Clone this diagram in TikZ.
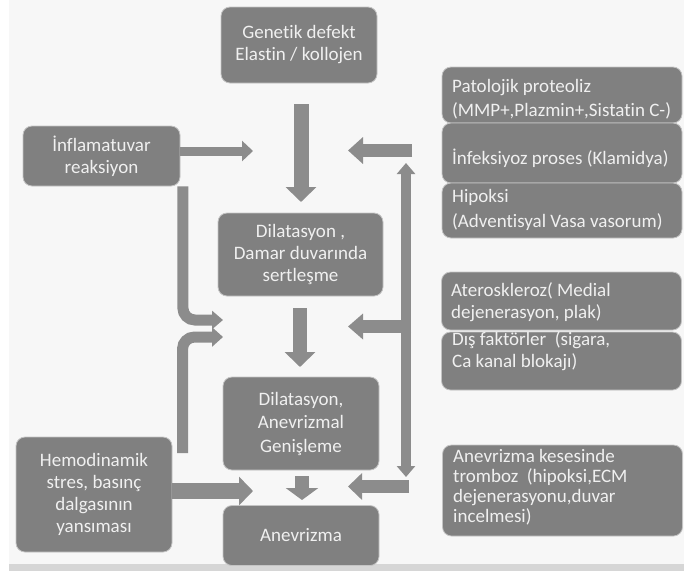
\documentclass[tikz,border=0pt]{standalone}
\usepackage{fontspec}
\setmainfont{Carlito}[Ligatures={NoCommon,NoRare,NoContextual}]
\usetikzlibrary{arrows.meta,calc}
\definecolor{bgc}{RGB}{247,247,247}
\definecolor{boxgray}{RGB}{128,128,128}
\definecolor{arrgray}{RGB}{140,140,140}
\definecolor{txtc}{RGB}{240,240,240}
\definecolor{edgec}{RGB}{196,196,196}
\definecolor{stripc}{RGB}{214,214,214}
\begin{document}
\begin{tikzpicture}[x=1pt,y=-1pt,
  box/.style={fill=boxgray, draw=edgec, line width=0.8pt, rounded corners=9pt,
    text=txtc, font=\fontsize{19}{22}\selectfont, align=center, inner sep=0pt},
  rbox/.style={box, minimum width=240pt},
  rtxt/.style={text=txtc, align=left, inner sep=0pt, anchor=west,
    font=\fontsize{19}{#1}\selectfont},
  blk/.style n args={3}{draw=arrgray, line width=#1, line cap=butt,
    -{Triangle[width=#2,length=#3]}},
]
\useasboundingbox (0,0) rectangle (684,571);
\fill[bgc] (0,0) rectangle (684,571);
\fill[white] (0,0) rectangle (9,571);
\fill[stripc] (9,564) rectangle (684,571);

% centre column
\node[box, minimum width=156pt, minimum height=76pt] (gen) at (299,45) {Genetik defekt\\Elastin / kollojen};
\node[box, minimum width=165pt, minimum height=83pt] (dil1) at (300.5,254.5) {Dilatasyon ,\\Damar duvarında\\sertleşme};
\node[box, minimum width=156pt, minimum height=93pt, font=\fontsize{19}{23.5}\selectfont] (dil2) at (301,423.5) {Dilatasyon,\\Anevrizmal\\Genişleme};
\node[box, minimum width=156pt, minimum height=60pt] (anev) at (301,535.5) {Anevrizma};

% left column
\node[box, minimum width=157pt, minimum height=60pt] (inf) at (101.5,156) {İnflamatuvar\\reaksiyon};
\node[box, minimum width=156pt, minimum height=115pt] (hemo) at (94,494.5) {Hemodinamik\\stres, basınç\\dalgasının\\yansıması};

% right column: boxes
\node[rbox, minimum height=56pt] (pat) at (562,95) {};
\node[rbox, minimum height=60pt] (infk) at (562,153) {};
\node[rbox, minimum height=55pt] (hip) at (562,210.5) {};
\node[rbox, minimum height=58pt] (ater) at (561.5,301) {};
\node[rbox, minimum height=58pt] (dis) at (561.5,361) {};
\node[rbox, minimum height=91pt] (anevk) at (562.5,490.5) {};
% right column: texts
\node[rtxt=24] (patt) at (452,99) {Patolojik proteoliz\\(MMP+,Plazmin+,Sistatin C-)};
\node[rtxt=22] (infkt) at (452,158) {İnfeksiyoz proses (Klamidya)};
\node[rtxt=25] (hipt) at (452,209.5) {Hipoksi\\(Adventisyal Vasa vasorum)};
\node[rtxt=22] (atert) at (451,302) {Ateroskleroz( Medial\\dejenerasyon, plak)};
\node[rtxt=22] (dist) at (452,351) {Dış faktörler\ \ (sigara,\\Ca kanal blokajı)};
\node[rtxt=20] (anevkt) at (453,487) {Anevrizma kesesinde\\tromboz\ \ (hipoksi,ECM\\dejenerasyonu,duvar\\incelmesi)};

% free ends of the arrows
\coordinate (a1s) at (301,104);   \coordinate (a1e) at (301,202);
\coordinate (a2e) at (253,151);
\coordinate (a3s) at (412,150.5); \coordinate (a3e) at (348,150.5);
\coordinate (a4t) at (406,163);   \coordinate (a4b) at (406,477);
\coordinate (a5s) at (300,308);   \coordinate (a5e) at (300,367);
\coordinate (a6s) at (411,326.5); \coordinate (a6e) at (348,326.5);
\coordinate (a7s) at (409,486.5); \coordinate (a7e) at (348,486.5);
\coordinate (a8s) at (302,476);   \coordinate (a8e) at (302,500);
\coordinate (a9e) at (253,491);
\coordinate (a10s) at ($(inf.south east)+(2.5,0)$); \coordinate (a10e) at (223,320);
\coordinate (a11s) at (182.5,453); \coordinate (a11e) at (223,337);

% arrows
\draw[blk={15pt}{30pt}{15pt}] (a1s) -- (a1e);
\draw[blk={9pt}{20pt}{11pt}] (inf.east |- a2e) -- (a2e);
\draw[blk={13pt}{26pt}{15pt}] (a3s) -- (a3e);
\draw[draw=arrgray, line width=10pt, line cap=butt,
  {Triangle[width=18pt,length=11pt]}-{Triangle[width=18pt,length=11pt]}] (a4t) -- (a4b);
\draw[blk={14pt}{30pt}{15pt}] (a5s) -- (a5e);
\draw[blk={13pt}{25pt}{15pt}] (a6s) -- (a6e);
\draw[blk={13pt}{26pt}{14pt}] (a7s) -- (a7e);
\draw[blk={14pt}{32pt}{12pt}] (a8s) -- (a8e);
\draw[blk={16pt}{28pt}{14pt}] (hemo.east |- a9e) -- (a9e);
\draw[blk={11pt}{18pt}{11pt}, rounded corners=12pt] (a10s) |- (a10e);
\draw[blk={11pt}{19pt}{11pt}, rounded corners=12pt] (a11s) |- (a11e);
\end{tikzpicture}
\end{document}
